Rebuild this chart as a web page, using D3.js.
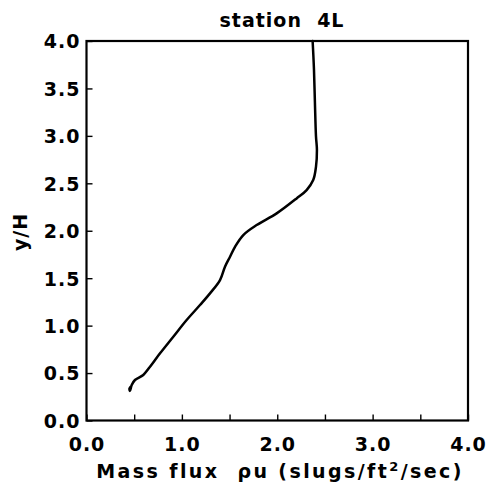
<!DOCTYPE html>
<html>
<head>
<meta charset="utf-8">
<script src="https://cdn.jsdelivr.net/npm/d3@7"></script>
<style>
  html, body { margin: 0; padding: 0; background: #fff; }
  svg text { font-family: "DejaVu Sans", sans-serif; font-weight: bold; fill: #000; white-space: pre; }
</style>
</head>
<body>
<svg id="chart" width="491" height="495"></svg>
<script>
// Mass-flux profile at station 4L
const title = "station  4L";
const xTitle = "Mass flux  \u03C1u (slugs/ft";
const yTitle = "y/H";

const xTicks = [0, 0.5, 1, 1.5, 2, 2.5, 3, 3.5, 4];
const xTickLabels = ["0.0", "", "1.0", "", "2.0", "", "3.0", "", "4.0"];
const yTicks = [0, 0.5, 1, 1.5, 2, 2.5, 3, 3.5, 4];
const yTickLabels = ["0.0", "0.5", "1.0", "1.5", "2.0", "2.5", "3.0", "3.5", "4.0"];

// measured profile, bottom to top
const massFlux = [0.462, 0.450, 0.456, 0.474, 0.508, 0.595, 0.666, 0.771, 0.910, 1.050, 1.190, 1.295, 1.400,
                  1.452, 1.505, 1.557, 1.644, 1.784, 1.994, 2.203, 2.308, 2.377, 2.406, 2.416, 2.406, 2.395,
                  2.385, 2.371];
const yOverH   = [0.355, 0.335, 0.312, 0.374, 0.427, 0.480, 0.567, 0.708, 0.883, 1.059, 1.217, 1.340, 1.480,
                  1.621, 1.726, 1.831, 1.955, 2.060, 2.183, 2.341, 2.429, 2.534, 2.674, 2.850, 2.998, 3.349,
                  3.701, 4.000];

const svg = d3.select("#chart");
const x = d3.scaleLinear().domain([0, 4]).range([86.5, 468]);
const y = d3.scaleLinear().domain([0, 4]).range([420.5, 41]);

// frame
svg.append("rect")
  .attr("x", x(0)).attr("y", y(4))
  .attr("width", x(4) - x(0)).attr("height", y(0) - y(4))
  .attr("fill", "none").attr("stroke", "#000").attr("stroke-width", 2.2);

// bottom axis: inward ticks
const xAxis = d3.axisBottom(x).tickValues(xTicks).tickSizeInner(-6).tickSizeOuter(0)
  .tickFormat((d, i) => xTickLabels[i]);
const gx = svg.append("g").attr("transform", `translate(0,${y(0)})`).call(xAxis);
gx.select(".domain").remove();
gx.selectAll(".tick line").attr("stroke", "#000").attr("stroke-width", 1.4);
gx.selectAll(".tick text").attr("y", 30).attr("dy", 0)
  .style("font-size", "19px").style("font-family", "DejaVu Sans").style("font-weight", "bold")
  .style("letter-spacing", "1px");

// left axis: inward ticks
const yAxis = d3.axisLeft(y).tickValues(yTicks).tickSizeInner(-6).tickSizeOuter(0)
  .tickFormat((d, i) => yTickLabels[i]);
const gy = svg.append("g").attr("transform", `translate(${x(0)},0)`).call(yAxis);
gy.select(".domain").remove();
gy.selectAll(".tick line").attr("stroke", "#000").attr("stroke-width", 1.4);
gy.selectAll(".tick text").attr("x", -6).attr("dy", "0.36em")
  .style("font-size", "19px").style("font-family", "DejaVu Sans").style("font-weight", "bold")
  .style("letter-spacing", "1px");

// profile curve
const pts = massFlux.map((v, i) => [v, yOverH[i]]);
svg.append("path")
  .datum(pts)
  .attr("fill", "none").attr("stroke", "#000").attr("stroke-width", 2.5)
  .attr("stroke-linejoin", "round").attr("stroke-linecap", "round")
  .attr("d", d3.line().x(d => x(d[0])).y(d => y(d[1])).curve(d3.curveCatmullRom));

// titles
svg.append("text").attr("x", 282).attr("y", 27).attr("text-anchor", "middle")
  .style("font-size", "19px").style("letter-spacing", "1px").text(title);

const xt = svg.append("text").attr("x", 280).attr("y", 478).attr("text-anchor", "middle")
  .style("font-size", "19px").style("letter-spacing", "2.4px");
xt.append("tspan").text(xTitle);
xt.append("tspan").attr("dy", -7).style("font-size", "13px").text("2");
xt.append("tspan").attr("dy", 7).text("/sec)");

svg.append("text").attr("transform", "translate(27,232) rotate(-90)").attr("text-anchor", "middle")
  .style("font-size", "19px").style("letter-spacing", "1px").text(yTitle);
</script>
</body>
</html>
